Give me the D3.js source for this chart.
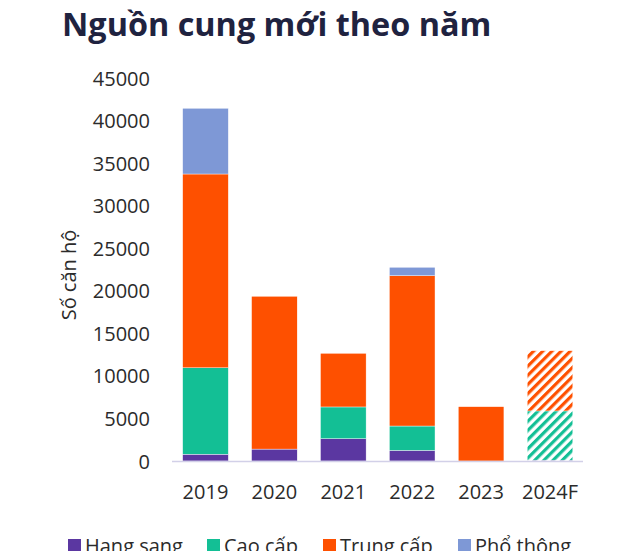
<!DOCTYPE html>
<html>
<head>
<meta charset="utf-8">
<script src="https://cdn.jsdelivr.net/npm/d3@7/dist/d3.min.js"></script>
<style>
html,body{margin:0;padding:0;background:#fff;overflow:hidden;}
svg{display:block;font-family:"Open Sans","Noto Sans",sans-serif;}
</style>
</head>
<body>
<svg id="chart" width="622" height="551"></svg>
<script>
const years = ["2019","2020","2021","2022","2023","2024F"];
const seriesNames = ["Hạng sang","Cao cấp","Trung cấp","Phổ thông"];
const hangSang = [800, 1400, 2620, 1250, 0, 100];
const caoCap   = [10150, 0, 3730, 2860, 0, 5780];
const trungCap = [22770, 17950, 6300, 17660, 6380, 7080];
const phoThong = [7720, 0, 0, 990, 0, 0];
const forecast = [false, false, false, false, false, true];
const yTicks = [0,5000,10000,15000,20000,25000,30000,35000,40000,45000];
const colors = ["#5b37a1","#13bf95","#fe5000","#7e98d6"];

const svg = d3.select("#chart");

const x = d3.scaleBand().domain(years).range([172, 583.5]).paddingInner(0.338).paddingOuter(0.155);
const y = d3.scaleLinear().domain([0, 45000]).range([461, 78]);

// patterns for forecast
const defs = svg.append("defs");
colors.forEach((c, i) => {
  const p = defs.append("pattern").attr("id", "hatch" + i)
    .attr("patternUnits", "userSpaceOnUse").attr("width", 6.5).attr("height", 6.5)
    .attr("patternTransform", "rotate(45)");
  p.append("rect").attr("width", 6.5).attr("height", 6.5).attr("fill", "#fff");
  p.append("rect").attr("x", 0).attr("width", 3.2).attr("height", 6.5).attr("fill", c);
});

// title
svg.append("text").attr("x", 62).attr("y", 36)
  .attr("font-size", 32.4).attr("font-weight", 700).attr("fill", "#1f2340")
  .text("Nguồn cung mới theo năm");

// stacked data
const table = years.map((yr, i) => ({year: yr, "Hạng sang": hangSang[i], "Cao cấp": caoCap[i], "Trung cấp": trungCap[i], "Phổ thông": phoThong[i]}));
const stack = d3.stack().keys(seriesNames)(table);

stack.forEach((layer, k) => {
  svg.append("g").selectAll("rect").data(layer).join("rect")
    .attr("x", d => x(d.data.year))
    .attr("width", x.bandwidth())
    .attr("y", d => y(d[1]))
    .attr("height", d => Math.max(0, y(d[0]) - y(d[1])))
    .attr("fill", (d, i) => forecast[i] ? `url(#hatch${k})` : colors[k])
    .attr("stroke", "#fff").attr("stroke-width", 0.4);
});

// axis baseline
svg.append("line").attr("x1", 172).attr("x2", 583).attr("y1", 461.5).attr("y2", 461.5)
  .attr("stroke", "#d2d0e8").attr("stroke-width", 1.5);

// y axis
const yAxis = d3.axisLeft(y).tickValues(yTicks).tickSize(0).tickPadding(0).tickFormat(d3.format("d"));
const gy = svg.append("g").attr("transform", "translate(150,0)").call(yAxis);
gy.select(".domain").remove();
gy.selectAll("text").attr("font-size", 20).attr("fill", "#2b2b2b").attr("font-family", "Open Sans").attr("dy", "0.35em");

// x axis
const xAxis = d3.axisBottom(x).tickSize(0).tickPadding(0);
const gx = svg.append("g").attr("transform", "translate(0,484)").call(xAxis);
gx.select(".domain").remove();
gx.selectAll("text").attr("font-size", 20).attr("fill", "#2b2b2b").attr("font-family", "Open Sans").attr("dy", "0.75em");

// y title
svg.append("text").attr("transform", "translate(76,275) rotate(-90)")
  .attr("text-anchor", "middle").attr("font-size", 20).attr("fill", "#2b2b2b")
  .text("Số căn hộ");

// legend
const legX = [68, 207, 323, 458];
const leg = svg.append("g");
seriesNames.forEach((s, k) => {
  leg.append("rect").attr("x", legX[k]).attr("y", 539).attr("width", 13).attr("height", 13).attr("fill", colors[k]);
  leg.append("text").attr("x", legX[k] + 17).attr("y", 553).attr("font-size", 20).attr("fill", "#2b2b2b").text(s);
});
</script>
</body>
</html>
